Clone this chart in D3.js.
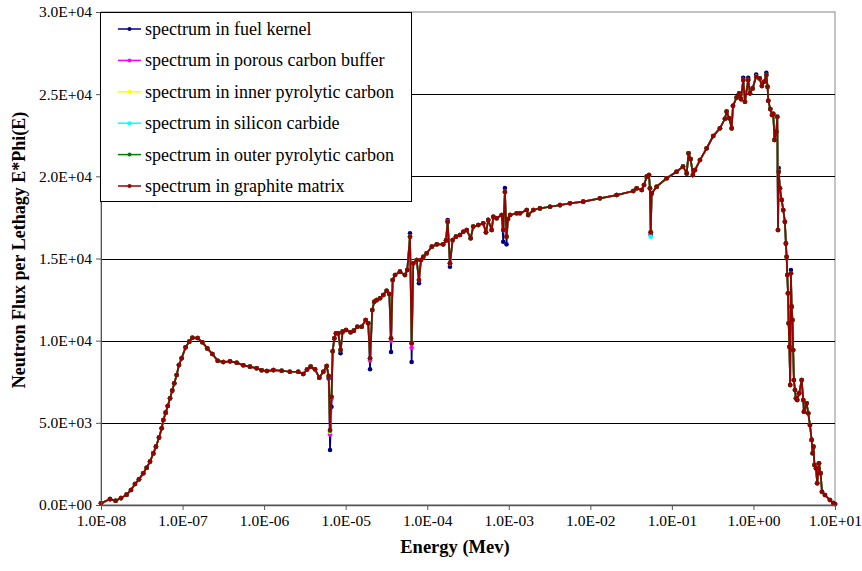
<!DOCTYPE html>
<html>
<head>
<meta charset="utf-8">
<script src="https://cdnjs.cloudflare.com/ajax/libs/d3/7.8.5/d3.min.js"></script>
<style>
body { margin: 0; background: #fff; }
text { font-family: "Liberation Serif", "Times New Roman", serif; fill: #000; }
</style>
</head>
<body>
<svg id="chart" width="862" height="571"></svg>
<script>
// energy grid (MeV), shared by all six series
var energy = [1.0e-8,1.29e-8,1.51e-8,1.76e-8,2.06e-8,2.33e-8,2.61e-8,2.92e-8,3.30e-8,3.63e-8,
  3.99e-8,4.38e-8,4.72e-8,5.14e-8,5.55e-8,5.81e-8,6.21e-8,6.58e-8,7.02e-8,7.48e-8,
  7.92e-8,8.47e-8,9.03e-8,9.75e-8,1.09e-7,1.21e-7,1.32e-7,1.53e-7,1.75e-7,2.01e-7,
  2.32e-7,2.70e-7,3.16e-7,3.82e-7,4.61e-7,5.56e-7,6.71e-7,8.11e-7,9.33e-7,1.08e-6,
  1.30e-6,1.64e-6,2.07e-6,2.62e-6,3.02e-6,3.36e-6,3.72e-6,4.21e-6,4.75e-6,5.32e-6,
  5.85e-6,6.19e-6,6.43e-6,6.70e-6,6.93e-6,7.26e-6,7.60e-6,8.13e-6,8.65e-6,9.18e-6,
  1.01e-5,1.15e-5,1.26e-5,1.39e-5,1.57e-5,1.76e-5,1.89e-5,1.99e-5,2.12e-5,2.24e-5,
  2.40e-5,2.64e-5,2.89e-5,3.18e-5,3.43e-5,3.60e-5,3.77e-5,4.03e-5,4.63e-5,5.33e-5,
  5.69e-5,6.15e-5,6.44e-5,6.75e-5,7.43e-5,7.92e-5,8.38e-5,8.95e-5,9.84e-5,1.14e-4,
  1.31e-4,1.57e-4,1.70e-4,1.78e-4,1.90e-4,2.05e-4,2.25e-4,2.52e-4,2.77e-4,3.05e-4,
  3.41e-4,3.67e-4,4.23e-4,4.86e-4,5.25e-4,5.60e-4,6.17e-4,6.46e-4,7.10e-4,8.18e-4,
  8.55e-4,8.97e-4,9.38e-4,9.77e-4,1.04e-3,1.25e-3,1.37e-3,1.66e-3,1.73e-3,2.00e-3,
  2.41e-3,3.20e-3,4.25e-3,5.62e-3,8.18e-3,1.31e-2,2.10e-2,3.36e-2,3.70e-2,4.27e-2,
  4.55e-2,4.91e-2,5.24e-2,5.38e-2,5.50e-2,5.65e-2,6.50e-2,8.63e-2,1.14e-1,1.37e-1,
  1.52e-1,1.60e-1,1.70e-1,1.81e-1,1.92e-1,2.21e-1,2.67e-1,3.21e-1,3.88e-1,4.47e-1,
  4.69e-1,5.05e-1,5.41e-1,5.61e-1,6.22e-1,6.70e-1,7.03e-1,7.50e-1,7.87e-1,8.63e-1,
  9.06e-1,9.77e-1,1.08,1.19,1.27,1.35,1.44,1.49,1.52,1.61,
  1.69,1.75,1.81,1.91,1.96,2.00,2.04,2.11,2.22,2.32,
  2.43,2.50,2.55,2.60,2.65,2.70,2.76,2.82,2.88,2.94,
  3.01,3.07,3.13,3.23,3.32,3.44,3.64,3.90,4.08,4.16,
  4.49,4.70,4.93,5.17,5.32,5.44,5.60,5.85,6.05,6.35,
  6.67,6.92,7.53,8.67,9.51,10.0];

// E*Phi(E) in graphite matrix - the other regions only differ at the resonance dips
var graphiteMatrix = [100,360,260,420,630,910,1280,1560,1930,2270,
  2640,3140,3550,4100,4670,5170,5620,6020,6490,6960,
  7410,7910,8520,8930,9600,9940,10180,10160,9900,9530,
  9190,8780,8700,8740,8660,8500,8420,8320,8200,8150,
  8210,8170,8110,8110,7970,8250,8420,8260,7750,8110,
  8460,7850,4560,6590,9360,10140,10450,10450,9430,10550,
  10650,10510,10610,10850,10850,11260,11060,8930,11870,12370,
  12470,12580,12780,13040,12840,10140,13690,14000,14200,14000,
  14300,16330,9840,14710,14910,13690,14910,15110,15320,15720,
  15860,15860,16100,17240,14710,16130,16330,16430,16630,16730,
  16230,16940,17040,17140,16590,17340,16730,17540,17450,17650,
  16730,19050,16330,17400,17650,17750,17750,17950,17650,17950,
  18050,18150,18250,18360,18460,18660,18860,19110,19270,19170,
  19470,19980,20080,19270,16600,18960,19370,19880,20280,20600,
  20180,21400,21050,20080,20380,20990,21710,22450,22920,23500,
  23940,23530,22920,24290,24800,25050,24700,25860,24540,25860,
  25050,25350,26060,25960,25500,25760,26170,25450,24600,24090,
  23730,23800,22210,22720,23630,16730,20280,19270,18560,17950,
  17240,15920,15110,14000,12880,11060,9630,7300,14100,12070,
  11260,9430,7610,7000,6490,6390,6800,7610,6390,5680,
  6190,5580,4870,3960,3150,3550,2430,2230,1320,2540,
  1930,810,610,300,120,60];

// where a region departs from the graphite matrix curve: [energy, flux]
var fuelKernelDips = [[6.19e-6,7700],[6.43e-6,3350],[6.70e-6,5980],[8.65e-6,9230],[1.99e-5,8260],
  [3.60e-5,9310],[6.15e-5,16530],[6.44e-5,8700],[7.92e-5,13500],[1.78e-4,17340],[1.90e-4,14500],
  [8.55e-4,16020],[8.97e-4,19290],[9.38e-4,15860],[5.50e-2,16450],
  [7.50e-1,26000],[8.63e-1,26000],[1.08,26200],[1.44,26300],[2.04,20500],[2.88,14300]];
var porousBufferDips = [[6.43e-6,4300],[6.70e-6,6450],[1.99e-5,8800],[3.60e-5,9990],[6.44e-5,9570]];
var innerPyCDips = [[6.43e-6,4450]];
var siliconCarbideDips = [[5.50e-2,16330]];
var outerPyCDips = [[6.43e-6,4520]];

var seriesNames = ["spectrum in fuel kernel", "spectrum in porous carbon buffer",
  "spectrum in inner pyrolytic carbon", "spectrum in silicon carbide",
  "spectrum in outer pyrolytic carbon", "spectrum in graphite matrix"];
var seriesDips = [fuelKernelDips, porousBufferDips, innerPyCDips, siliconCarbideDips, outerPyCDips, []];
var colors = ["#000080", "#FF00FF", "#FFFF00", "#00FFFF", "#008000", "#990000"];

var xTicks = [1e-8, 1e-7, 1e-6, 1e-5, 1e-4, 1e-3, 1e-2, 1e-1, 1, 10];
var xTickLabels = ["1.0E-08","1.0E-07","1.0E-06","1.0E-05","1.0E-04","1.0E-03","1.0E-02","1.0E-01","1.0E+00","1.0E+01"];
var yTicks = [0, 5000, 10000, 15000, 20000, 25000, 30000];
var yTickLabels = ["0.0E+00","5.0E+03","1.0E+04","1.5E+04","2.0E+04","2.5E+04","3.0E+04"];

var plot = {left: 101, right: 835, top: 12, bottom: 505};

var svg = d3.select("#chart");

var x = d3.scaleLog()
    .domain([1e-8, 10])
    .range([plot.left, plot.right]);

var y = d3.scaleLinear()
    .domain([0, 30000])
    .range([plot.bottom, plot.top]);

// build each region's table from the shared grid plus its own dips
var series = seriesNames.map(function(name, s) {
    var vals = graphiteMatrix.slice();
    seriesDips[s].forEach(function(p) {
        var k = energy.indexOf(p[0]);
        if (k >= 0) vals[k] = p[1];
    });
    return energy.map(function(e, i) { return {e: e, v: vals[i]}; });
});

// plot area border + gridlines
svg.append("rect")
    .attr("x", plot.left).attr("y", plot.top)
    .attr("width", plot.right - plot.left).attr("height", plot.bottom - plot.top)
    .attr("fill", "none").attr("stroke", "#888").attr("stroke-width", 1);

svg.append("g")
    .selectAll("line")
    .data(yTicks.slice(1, -1))
    .enter().append("line")
    .attr("x1", plot.left).attr("x2", plot.right)
    .attr("y1", function(d) { return Math.round(y(d)) + 0.5; })
    .attr("y2", function(d) { return Math.round(y(d)) + 0.5; })
    .attr("stroke", "#000").attr("stroke-width", 1);

var line = d3.line()
    .x(function(d) { return x(d.e); })
    .y(function(d) { return y(d.v); });

series.forEach(function(data, s) {
    var g = svg.append("g");
    g.append("path")
        .datum(data)
        .attr("d", line)
        .attr("fill", "none")
        .attr("stroke", colors[s])
        .attr("stroke-width", 1.7);
    g.selectAll("circle")
        .data(data)
        .enter().append("circle")
        .attr("cx", function(d) { return x(d.e); })
        .attr("cy", function(d) { return y(d.v); })
        .attr("r", 2.3)
        .attr("fill", colors[s]);
});

// axes
var xAxis = d3.axisBottom(x)
    .tickValues(xTicks)
    .tickFormat(function(d, i) { return xTickLabels[i]; })
    .tickSize(5).tickSizeOuter(0).tickPadding(5);

var yAxis = d3.axisLeft(y)
    .tickValues(yTicks)
    .tickFormat(function(d, i) { return yTickLabels[i]; })
    .tickSize(5).tickSizeOuter(0).tickPadding(4);

var gx = svg.append("g")
    .attr("transform", "translate(0," + plot.bottom + ")")
    .call(xAxis);
gx.select(".domain").attr("stroke", "#555").attr("stroke-width", 1.5);
gx.selectAll(".tick line").attr("stroke", "#555");
gx.selectAll("text").style("font-size", "15.5px").style("font-family", "Liberation Serif");

var gy = svg.append("g")
    .attr("transform", "translate(" + plot.left + ",0)")
    .call(yAxis);
gy.select(".domain").attr("stroke", "#555").attr("stroke-width", 1);
gy.selectAll(".tick line").attr("stroke", "#555");
gy.selectAll("text").style("font-size", "15.5px").style("font-family", "Liberation Serif");

svg.append("text")
    .attr("x", 455).attr("y", 553)
    .attr("text-anchor", "middle")
    .style("font-size", "18.5px").style("font-weight", "bold")
    .text("Energy (Mev)");

svg.append("text")
    .attr("transform", "translate(25,250) rotate(-90)")
    .attr("text-anchor", "middle")
    .style("font-size", "18px").style("font-weight", "bold")
    .text("Neutron Flux per Lethagy E*Phi(E)");

// legend
var legend = svg.append("g");
legend.append("rect")
    .attr("x", 100.5).attr("y", 12.5)
    .attr("width", 311).attr("height", 189)
    .attr("fill", "#fff").attr("stroke", "#000").attr("stroke-width", 1);

seriesNames.forEach(function(name, i) {
    var cy = 29 + i * 31.4;
    legend.append("line")
        .attr("x1", 118).attr("x2", 141)
        .attr("y1", cy).attr("y2", cy)
        .attr("stroke", colors[i]).attr("stroke-width", 1.5);
    legend.append("circle")
        .attr("cx", 129.5).attr("cy", cy).attr("r", 2)
        .attr("fill", colors[i]);
    legend.append("text")
        .attr("x", 145).attr("y", cy + 6)
        .style("font-size", "18px")
        .text(name);
});
</script>
</body>
</html>
